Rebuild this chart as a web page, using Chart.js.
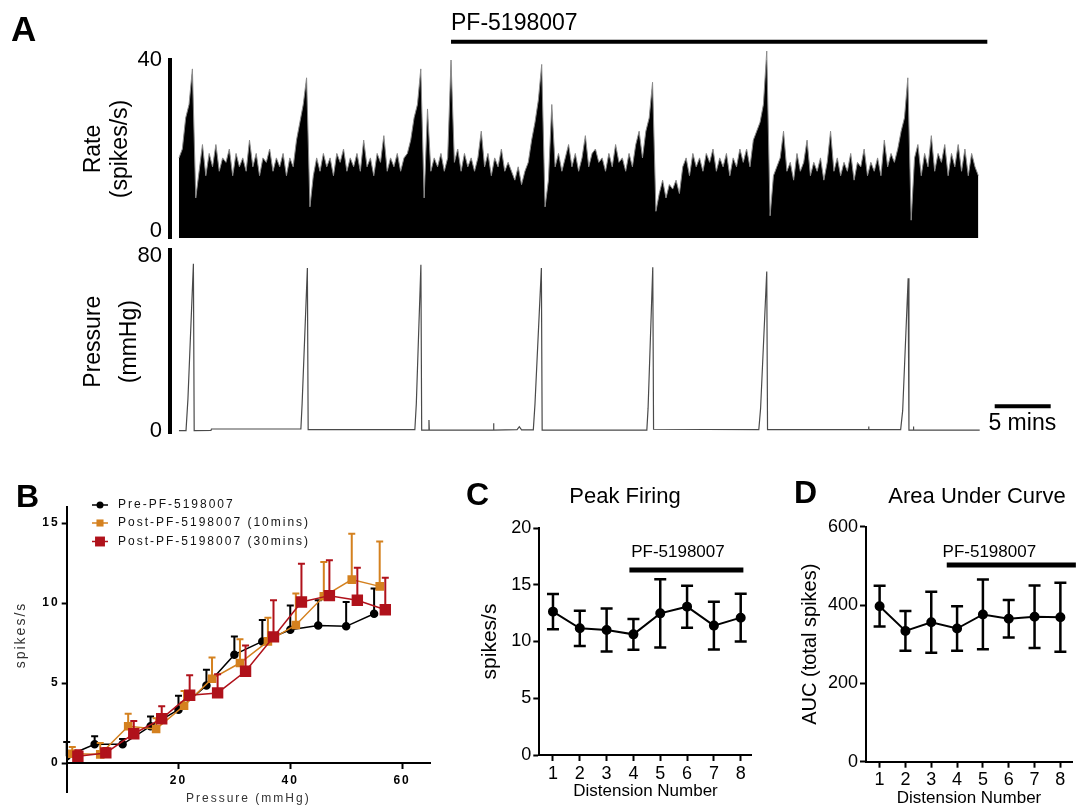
<!DOCTYPE html>
<html>
<head>
<meta charset="utf-8">
<title>PF-5198007 afferent firing</title>
<script src="https://cdn.jsdelivr.net/npm/chart.js@4.4.1/dist/chart.umd.min.js"></script>
<style>
  body { margin: 0; background: #fff; }
  #fig { position: relative; width: 1078px; height: 809px; overflow: hidden; font-family: "Liberation Sans", Arial, sans-serif; }
  #fig canvas { position: absolute; }
  .panel { position: absolute; z-index: 2; font-size: 32px; font-weight: bold; line-height: 1; }
  .title { position: absolute; z-index: 2; font-size: 22px; line-height: 1; white-space: nowrap; transform: translateX(-50%); }
</style>
</head>
<body>
<div id="fig">
  <canvas id="rateChart" width="1078" height="270" style="left:0;top:0"></canvas>
  <canvas id="pressureChart" width="1078" height="250" style="left:0;top:215px"></canvas>
  <canvas id="curveChart" width="440" height="329" style="left:0;top:480px"></canvas>
  <canvas id="peakChart" width="320" height="329" style="left:440px;top:480px"></canvas>
  <canvas id="aucChart" width="318" height="329" style="left:760px;top:480px"></canvas>
  <div class="panel" style="left:11px;top:11px;font-size:35px">A</div>
  <div class="panel" style="left:16px;top:480px">B</div>
  <div class="panel" style="left:466px;top:478px">C</div>
  <div class="panel" style="left:794px;top:476px">D</div>
  <div class="title" style="left:625px;top:485px">Peak Firing</div>
  <div class="title" style="left:977px;top:485px">Area Under Curve</div>
</div>
<script>
// ---- Panel A: firing rate trace (one value per 0.3 min bin) ----
const RATE_STEP = 0.3;
const rateSpikes = [
  18, 20, 27, 30, 38, 9, 15, 21, 14, 19,
  16, 21, 15, 18, 17, 20, 14, 19, 16, 18,
  15, 22, 16, 19, 14, 18, 17, 20, 15, 18,
  16, 19, 14, 18, 16, 22, 26, 30, 36, 7,
  14, 18, 15, 19, 16, 18, 14, 19, 17, 20,
  15, 18, 16, 19, 15, 22, 16, 18, 14, 19,
  17, 23, 15, 18, 16, 19, 15, 18, 19, 22,
  27, 30, 38, 9, 29, 15, 18, 16, 19, 15,
  18, 40, 17, 20, 15, 19, 16, 18, 15, 18,
  24, 16, 19, 14, 18, 16, 20, 15, 17, 15,
  13, 16, 12, 15, 17, 22, 26, 31, 39, 7,
  13, 30, 16, 19, 15, 18, 21, 16, 19, 15,
  18, 23, 16, 19, 20, 17, 18, 15, 19, 16,
  21, 17, 18, 15, 19, 16, 21, 24, 18, 24,
  27, 35, 6, 10, 13, 9, 12, 11, 13, 10,
  16, 18, 14, 19, 16, 18, 15, 19, 17, 20,
  15, 18, 16, 19, 14, 18, 16, 20, 17, 20,
  16, 22, 24, 26, 30, 42, 5, 14, 16, 18,
  24, 15, 17, 13, 19, 15, 17, 22, 14, 17,
  15, 18, 13, 17, 24, 15, 18, 14, 17, 15,
  19, 13, 17, 16, 20, 14, 17, 15, 18, 14,
  22, 16, 19, 17, 20, 24, 27, 36, 4, 18,
  21, 14, 19, 16, 23, 15, 19, 17, 21, 14,
  19, 16, 21, 15, 20, 14, 19, 16, 14
];
const rateTicks = [0, 40];

// bladder pressure trace: time (min) and pressure (mmHg)
const pressureTime = [0, 0.63, 0.8, 1.29, 1.36, 2.86, 2.9, 10.89, 11.0, 11.47, 11.54,
  21.07, 21.2, 21.61, 21.68, 22.3, 22.33, 22.36, 28.08, 28.1, 28.13, 30.2, 30.4, 30.6,
  31.65, 31.8, 32.37, 32.44, 41.79, 41.9, 42.32, 42.39, 51.79, 51.95, 52.5, 52.57,
  61.58, 61.6, 61.63, 64.46, 64.64, 65.13, 65.2, 65.58, 65.6, 65.63, 71.52];
const pressureMmHg = [0.2, 0.2, 14, 73.9, 0.2, 0.3, 0.9, 0.9, 12, 72, 0.6,
  0.6, 12, 73.5, 0.4, 0.4, 4.9, 0.4, 0.4, 3.4, 0.4, 0.6, 1.9, 0.5,
  0.5, 12, 72, 0.4, 0.4, 10, 72.4, 0.8, 0.6, 10, 70.5, 0.6,
  0.6, 2, 0.6, 0.6, 9, 67.5, 0.4, 0.4, 2, 0.4, 0.4];
const pressureTicks = [0, 80];

const drugBarMin = [24.3, 72.2];      // PF-5198007 application
const scaleBarMin = [72.86, 77.86];   // 5 min scale bar

// ---- Panel B: stimulus-response ----
const preX = [0, 5, 10, 15, 20, 25, 30, 35, 40, 45, 50, 55];
const preY = [0.42, 1.17, 1.17, 2.3, 3.33, 4.85, 6.77, 7.6, 8.33, 8.6, 8.54, 9.33];
const preErr = [0.9, 0.5, 0.33, 0.6, 0.87, 0.98, 1.13, 1.34, 1.52, 1.57, 1.52, 1.57];
const tenX = [1, 6, 11, 16, 21, 26, 31, 36, 41, 46, 51, 56];
const tenY = [0.58, 0.54, 2.3, 2.13, 3.58, 5.27, 6.25, 7.6, 8.63, 10.42, 11.46, 11.04];
const tenErr = [0.42, 0.71, 0.78, 0.67, 0.92, 1.33, 1.48, 1.48, 1.97, 2.14, 2.87, 2.81];
const thirtyX = [2, 7, 12, 17, 22, 27, 32, 37, 42, 47, 52, 57];
const thirtyY = [0.42, 0.63, 1.83, 2.77, 4.23, 4.38, 5.73, 7.88, 10.06, 10.46, 10.17, 9.58];
const thirtyErr = [0.38, 0.31, 0.8, 0.77, 1.25, 1.16, 1.62, 2.29, 2.4, 2.21, 2.03, 2.0];
const curveXTicks = [20, 40, 60];
const curveYTicks = [0, 5, 10, 15];

// ---- Panels C and D ----
const distension = [1, 2, 3, 4, 5, 6, 7, 8];
const peakMean = [12.63, 11.16, 11.01, 10.63, 12.48, 13.07, 11.4, 12.1];
const peakSem = [1.56, 1.56, 1.9, 1.35, 3.0, 1.85, 2.1, 2.1];
const peakTicks = [0, 5, 10, 15, 20];
const aucMean = [397, 334, 356, 340, 376, 365, 370, 369];
const aucSem = [52, 51, 78, 57, 89, 48, 80, 88];
const aucTicks = [0, 200, 400, 600];

const FONT = '"Liberation Sans", Arial, sans-serif';
Chart.defaults.font.family = FONT;
Chart.defaults.color = '#000';
Chart.defaults.plugins.legend.display = false;
Chart.defaults.plugins.tooltip.enabled = false;

const common = { responsive: false, animation: false, devicePixelRatio: 1 };
const fixedTicks = vals => s => { s.ticks = vals.map(v => ({ value: v })); };
const pts = (xs, ys) => xs.map((x, i) => ({ x: x, y: ys[i] }));

// text placed at data coordinates
Chart.register({
  id: 'notes',
  afterDraw(chart, args, opts) {
    if (!opts.items) return;
    const ctx = chart.ctx, xs = chart.scales.x, ys = chart.scales.y;
    opts.items.forEach(n => {
      ctx.save();
      ctx.font = n.font;
      ctx.fillStyle = '#000';
      ctx.textAlign = n.align || 'center';
      ctx.textBaseline = 'middle';
      ctx.fillText(n.text, xs.getPixelForValue(n.x), ys.getPixelForValue(n.y));
      ctx.restore();
    });
  }
});

// SEM bars; panel B only shows the upper half
Chart.register({
  id: 'errorBars',
  afterDatasetDraw(chart, args, opts) {
    const ds = chart.data.datasets[args.index];
    if (!ds.errorPlus) return;
    const ctx = chart.ctx, ys = chart.scales.y, half = (opts.cap || 8) / 2;
    ctx.save();
    ctx.strokeStyle = ds.borderColor;
    ctx.lineWidth = opts.width || 2;
    args.meta.data.forEach((pt, i) => {
      const v = ds.data[i].y;
      const top = ys.getPixelForValue(v + ds.errorPlus[i]);
      const bot = ds.errorMinus ? ys.getPixelForValue(v - ds.errorMinus[i]) : pt.y;
      ctx.beginPath();
      ctx.moveTo(pt.x, bot); ctx.lineTo(pt.x, top);
      ctx.moveTo(pt.x - half, top); ctx.lineTo(pt.x + half, top);
      if (ds.errorMinus) { ctx.moveTo(pt.x - half, bot); ctx.lineTo(pt.x + half, bot); }
      ctx.stroke();
    });
    ctx.restore();
  }
});

// Prism style: y axis runs a bit below the x axis
Chart.register({
  id: 'axisTail',
  afterDraw(chart, args, opts) {
    if (!opts.length) return;
    const { ctx, chartArea } = chart;
    const x = Math.round(chartArea.left);
    ctx.save();
    ctx.strokeStyle = '#000';
    ctx.lineWidth = 2;
    ctx.beginPath();
    ctx.moveTo(x, chartArea.bottom);
    ctx.lineTo(x, chartArea.bottom + opts.length);
    ctx.stroke();
    ctx.restore();
  }
});

// letter spaced text used in panel B
Chart.register({
  id: 'spacing',
  beforeDraw(chart, args, opts) {
    if (opts.value) chart.ctx.letterSpacing = opts.value;
  }
});

// legend rows for panel B: line with marker, then label
Chart.register({
  id: 'legendRows',
  afterDraw(chart, args, opts) {
    if (!opts.rows) return;
    const ctx = chart.ctx;
    opts.rows.forEach(r => {
      const ds = chart.data.datasets[r.dataset];
      const mid = (opts.x0 + opts.x1) / 2;
      ctx.save();
      ctx.strokeStyle = ds.borderColor;
      ctx.fillStyle = ds.borderColor;
      ctx.lineWidth = ds.borderWidth;
      ctx.beginPath();
      ctx.moveTo(opts.x0, r.y); ctx.lineTo(opts.x1, r.y);
      ctx.stroke();
      const rad = ds.pointRadius;
      if (ds.pointStyle === 'rect') {
        const h = rad * Math.SQRT1_2;
        ctx.fillRect(mid - h, r.y - h, 2 * h, 2 * h);
      } else {
        ctx.beginPath(); ctx.arc(mid, r.y, rad, 0, Math.PI * 2); ctx.fill();
      }
      ctx.fillStyle = '#111';
      ctx.font = opts.font;
      ctx.textAlign = 'left';
      ctx.textBaseline = 'middle';
      ctx.fillText(ds.label, opts.textX, r.y);
      ctx.restore();
    });
  }
});

// end labels of the trace axes sit inside the axis ends (two-line label nudges them)
const rateLabel = v => (v === 0 ? ['0', ''] : String(v));
const pressureLabel = v => (v === 80 ? ['', '80'] : String(v));

// ---------- A: rate ----------
new Chart(document.getElementById('rateChart'), {
  type: 'line',
  data: {
    datasets: [
      { data: rateSpikes.map((v, i) => ({ x: i * RATE_STEP, y: v })), fill: 'origin',
        backgroundColor: '#000', borderColor: '#8a8a8a', borderWidth: 1, pointRadius: 0, clip: false },
      { data: drugBarMin.map(t => ({ x: t, y: 44.1 })), borderColor: '#000', borderWidth: 4,
        pointRadius: 0, clip: false }
    ]
  },
  options: {
    ...common,
    layout: { padding: { top: 60, bottom: 32, left: 0, right: 0 } },
    plugins: { notes: { items: [{ text: 'PF-5198007', x: drugBarMin[0], y: 48.2, align: 'left', font: '23px ' + FONT }] } },
    scales: {
      x: { type: 'linear', min: -0.8, max: 80.3, display: false },
      y: {
        min: 0, max: 40,
        afterFit: s => { s.width = 170; },
        afterBuildTicks: fixedTicks(rateTicks),
        grid: { display: false, drawTicks: false },
        border: { width: 4, color: '#000' },
        ticks: { padding: 8, font: { size: 22, lineHeight: 0.62 }, color: '#000', callback: rateLabel },
        title: { display: true, text: ['Rate', '(spikes/s)'], color: '#000',
          font: { size: 23, lineHeight: 1.19 }, padding: { top: 80, bottom: 0 } }
      }
    }
  }
});

// ---------- A: pressure ----------
new Chart(document.getElementById('pressureChart'), {
  type: 'line',
  data: {
    datasets: [
      { data: pts(pressureTime, pressureMmHg), borderColor: '#4a4a4a', borderWidth: 1.2,
        pointRadius: 0, fill: false },
      { data: scaleBarMin.map(t => ({ x: t, y: 11 })), borderColor: '#000', borderWidth: 4,
        pointRadius: 0, clip: false }
    ]
  },
  options: {
    ...common,
    layout: { padding: { top: 35, bottom: 31.7, left: 0, right: 0 } },
    plugins: { notes: { items: [{ text: '5 mins', x: 72.3, y: 3.1, align: 'left', font: '23px ' + FONT }] } },
    scales: {
      x: { type: 'linear', min: -0.8, max: 80.3, display: false },
      y: {
        min: -1, max: 80,
        afterFit: s => { s.width = 170; },
        afterBuildTicks: fixedTicks(pressureTicks),
        grid: { display: false, drawTicks: false },
        border: { width: 4, color: '#000' },
        ticks: { padding: 8, font: { size: 22, lineHeight: 0.55 }, color: '#000', callback: pressureLabel },
        title: { display: true, text: ['Pressure', '(mmHg)'], color: '#000',
          font: { size: 23, lineHeight: 1.59 }, padding: { top: 75, bottom: 0 } }
      }
    }
  }
});

// ---------- B ----------
new Chart(document.getElementById('curveChart'), {
  type: 'line',
  data: {
    datasets: [
      { label: 'Pre-PF-5198007', data: pts(preX, preY), errorPlus: preErr, order: 2,
        borderColor: '#000', backgroundColor: '#000', borderWidth: 1.5,
        pointStyle: 'circle', pointRadius: 3.5 },
      { label: 'Post-PF-5198007 (10mins)', data: pts(tenX, tenY), errorPlus: tenErr, order: 1,
        borderColor: '#d4811f', backgroundColor: '#d4811f', borderWidth: 1.5,
        pointStyle: 'rect', pointRadius: 5 },
      { label: 'Post-PF-5198007 (30mins)', data: pts(thirtyX, thirtyY), errorPlus: thirtyErr, order: 0,
        borderColor: '#b0121b', backgroundColor: '#b0121b', borderWidth: 1.5,
        pointStyle: 'rect', pointRadius: 7 }
    ]
  },
  options: {
    ...common,
    layout: { padding: { top: 27, right: 10, left: 0, bottom: 0 } },
    plugins: {
      spacing: { value: '2px' },
      errorBars: { width: 2, cap: 7 },
      axisTail: { length: 30 },
      legendRows: { x0: 92, x1: 108, textX: 118, font: '12px ' + FONT,
        rows: [{ dataset: 0, y: 25 }, { dataset: 1, y: 43 }, { dataset: 2, y: 61.5 }] }
    },
    scales: {
      x: {
        type: 'linear', min: 0, max: 65,
        afterFit: s => { s.height = 46; },
        afterBuildTicks: fixedTicks(curveXTicks),
        grid: { drawOnChartArea: false, tickLength: 6, tickWidth: 2, tickColor: '#000' },
        border: { width: 2, color: '#000' },
        ticks: { padding: 4, font: { size: 12, weight: 'bold' }, color: '#000' },
        title: { display: true, text: 'Pressure (mmHg)', color: '#333', font: { size: 12 },
          padding: { top: 0, bottom: 3 } }
      },
      y: {
        min: 0, max: 16,
        afterFit: s => { s.width = 66.7; },
        afterBuildTicks: fixedTicks(curveYTicks),
        grid: { drawOnChartArea: false, tickLength: 5, tickWidth: 2, tickColor: '#000' },
        border: { width: 2, color: '#000' },
        ticks: { padding: 2, font: { size: 12, weight: 'bold' }, color: '#000' },
        title: { display: true, text: 'spikes/s', color: '#333', font: { size: 14 },
          padding: { top: 13, bottom: 0 } }
      }
    }
  }
});

// ---------- C and D ----------
function distensionChart(id, mean, sem, yTicks, yMax, yTitle, titleSize, box, drug) {
  return new Chart(document.getElementById(id), {
    type: 'line',
    data: {
      datasets: [
        { data: pts(distension, mean), errorPlus: sem, errorMinus: sem,
          borderColor: '#000', backgroundColor: '#000', borderWidth: 2, pointRadius: 4 },
        { data: drug.bar.map(x => ({ x: x, y: drug.y })), borderColor: '#000', borderWidth: 5,
          pointRadius: 0, clip: false }
      ]
    },
    options: {
      ...common,
      layout: { padding: { top: box.top, right: box.right, left: 0, bottom: 0 } },
      plugins: {
        errorBars: { width: 2.5, cap: 12 },
        notes: { items: [{ text: 'PF-5198007', x: drug.textX, y: drug.textY, font: '17px ' + FONT }] }
      },
      scales: {
        x: {
          type: 'linear', min: box.xMin, max: box.xMax,
          afterFit: s => { s.height = box.xHeight; },
          afterBuildTicks: fixedTicks(distension),
          grid: { drawOnChartArea: false, tickLength: 6, tickWidth: 2, tickColor: '#000' },
          border: { width: 2, color: '#000' },
          ticks: { padding: 2, font: { size: 18 }, color: '#000' },
          title: { display: true, text: 'Distension Number', color: '#000', font: { size: 17 },
            padding: { top: 0, bottom: box.xTitlePad } }
        },
        y: {
          min: 0, max: yMax,
          afterFit: s => { s.width = box.yWidth; },
          afterBuildTicks: fixedTicks(yTicks),
          grid: { drawOnChartArea: false, tickLength: 6, tickWidth: 2, tickColor: '#000' },
          border: { width: 2, color: '#000' },
          ticks: { padding: 2, font: { size: 18 }, color: '#000' },
          title: { display: true, text: yTitle, color: '#000', font: { size: titleSize },
            padding: { top: 50 - titleSize * 0.6, bottom: 0 } }
        }
      }
    }
  });
}

distensionChart('peakChart', peakMean, peakSem, peakTicks, 20, 'spikes/s', 21,
  { top: 48, right: 8.3, xMin: 0.49, xMax: 8.41, xHeight: 54, yWidth: 99.3, xTitlePad: 7 },
  { bar: [3.85, 8.1], y: 16.3, textX: 5.66, textY: 17.9 });

distensionChart('aucChart', aucMean, aucSem, aucTicks, 600, 'AUC (total spikes)', 20,
  { top: 46.7, right: 0, xMin: 0.473, xMax: 8.45, xHeight: 47.3, yWidth: 106, xTitlePad: 0 },
  { bar: [3.6, 8.6], y: 502, textX: 5.25, textY: 535 });
</script>
</body>
</html>
